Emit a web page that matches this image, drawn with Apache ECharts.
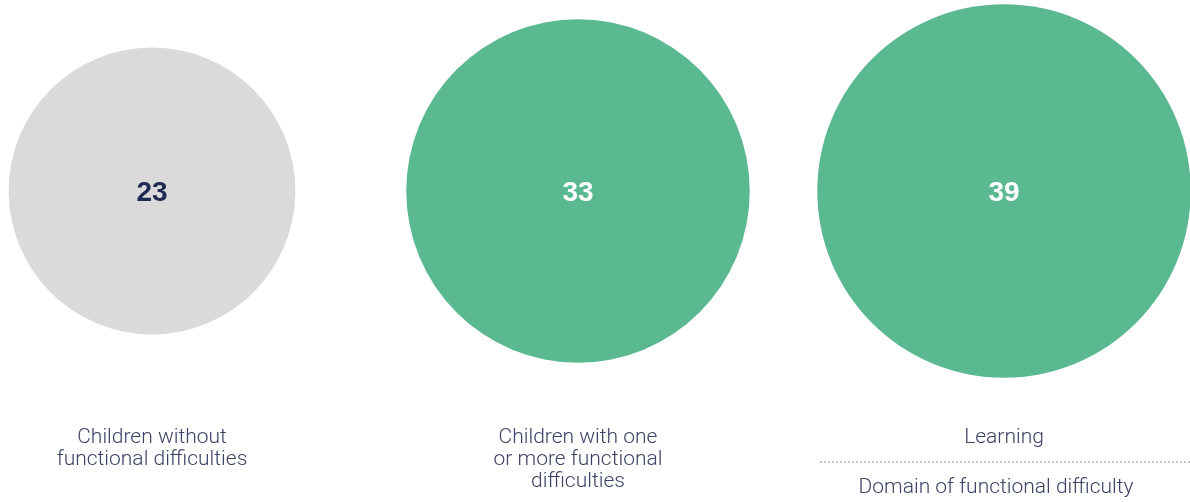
<!DOCTYPE html>
<html><head><meta charset="utf-8">
<script src="https://cdn.jsdelivr.net/npm/echarts@6/dist/echarts.min.js"></script>
<style>html,body{margin:0;padding:0;background:#fff}#c{width:1190px;height:502px}</style>
</head><body><div id="c"></div>
<script>
const categories = ["Children without\nfunctional difficulties", "Children with one\nor more functional\ndifficulties", "Learning"];
const values = [23, 33, 39];
const domainLabel = "Domain of functional difficulty";
const colors = ["#DADADA", "#5AB990", "#5AB990"];
const labelColors = ["#1E2A52", "#FFFFFF", "#FFFFFF"];

const chart = echarts.init(document.getElementById('c'));
const k = 59.8;
const txtFont = 'Roboto, Liberation Sans, Arial, sans-serif';
chart.setOption({
  animation: false,
  grid: {left: 152, right: 186, top: 0, bottom: 120},
  xAxis: {
    type: 'category', data: categories, boundaryGap: false,
    axisLine: {show: false}, axisTick: {show: false}, splitLine: {show: false},
    axisLabel: {margin: 45, fontSize: 21, lineHeight: 22, fontWeight: 300, color: '#3B4265', fontFamily: txtFont, verticalAlign: 'top'}
  },
  yAxis: {type: 'value', min: -1, max: 1, show: false},
  series: [{
    type: 'scatter',
    data: values.map((v, i) => ({
      value: [i, 0, v],
      itemStyle: {color: colors[i], opacity: 1},
      label: {color: labelColors[i]}
    })),
    symbolSize: d => k * Math.sqrt(d[2]),
    label: {show: true, position: 'inside', offset: [0, 2], formatter: p => p.value[2], fontSize: 28, fontWeight: 'bold', fontFamily: 'Liberation Sans, Arial, sans-serif'},
    emphasis: {disabled: true}
  }],
  graphic: [
    {type: 'line', shape: {x1: 820, y1: 462, x2: 1190, y2: 462}, style: {stroke: '#8A8F9F', lineWidth: 1, lineDash: [2, 2]}},
    {type: 'text', x: 996, y: 488, style: {text: domainLabel, fill: '#3B4265', fontSize: 21, fontWeight: 300, fontFamily: txtFont, textAlign: 'center', textVerticalAlign: 'middle'}}
  ]
});
</script></body></html>
